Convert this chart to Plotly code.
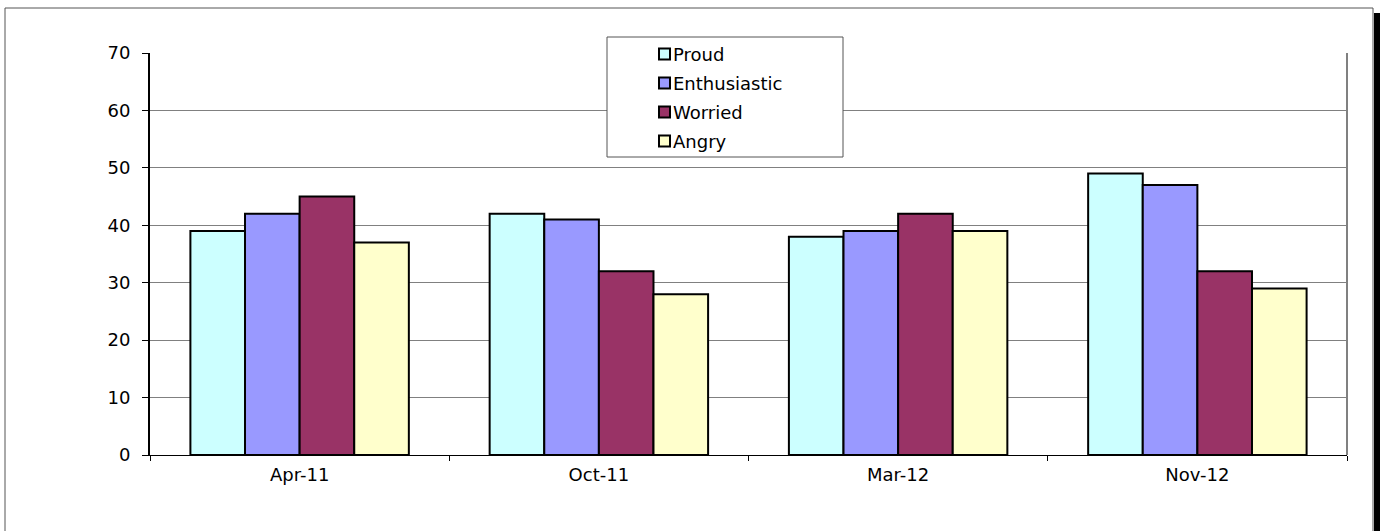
import plotly.graph_objects as go

categories = ["Apr-11", "Oct-11", "Mar-12", "Nov-12"]
proud = [39, 42, 38, 49]
enthusiastic = [42, 41, 39, 47]
worried = [45, 32, 42, 32]
angry = [37, 28, 39, 29]

series = [
    ("Proud", proud, "#CCFFFF"),
    ("Enthusiastic", enthusiastic, "#9999FF"),
    ("Worried", worried, "#993366"),
    ("Angry", angry, "#FFFFCC"),
]

W, H = 1383, 531
L, R, T, B = 150, 36, 53, 76
pw, ph = W - L - R, H - T - B

def px(x):
    return (x - L) / pw

def py(y):
    return (H - B - y) / ph

FAM = "DejaVu Sans, Arial, sans-serif"
font = dict(family=FAM, size=18, color="black")

fig = go.Figure()
for name, vals, col in series:
    fig.add_trace(go.Bar(
        x=categories, y=vals, name=name, showlegend=False,
        marker=dict(color=col, line=dict(color="black", width=2)),
    ))

shapes = [
    # outer frame
    dict(type="line", xref="paper", yref="paper", x0=px(5), x1=px(5), y0=py(8), y1=py(540),
         line=dict(color="#555555", width=1)),
    dict(type="line", xref="paper", yref="paper", x0=px(5), x1=px(1373), y0=py(8), y1=py(8),
         line=dict(color="#555555", width=1)),
    dict(type="line", xref="paper", yref="paper", x0=px(1373), x1=px(1373), y0=py(8), y1=py(540),
         line=dict(color="#555555", width=1)),
    # shadow
    dict(type="line", xref="paper", yref="paper", x0=px(1377), x1=px(1377), y0=py(13), y1=py(540),
         line=dict(color="black", width=6)),
    # plot area right border
    dict(type="line", xref="paper", yref="paper", x0=1, x1=1, y0=0, y1=1,
         line=dict(color="#808080", width=2)),
    # legend box
    dict(type="rect", xref="paper", yref="paper", x0=px(607), x1=px(843), y0=py(37), y1=py(157),
         line=dict(color="#555555", width=1), fillcolor="white", layer="above"),
]

annotations = []
row_y = [53, 82, 111, 140]
for (name, vals, col), ry in zip(series, row_y):
    shapes.append(dict(type="rect", xref="paper", yref="paper",
                       x0=px(659), x1=px(670), y0=py(ry - 4.5), y1=py(ry + 6.5),
                       line=dict(color="black", width=2), fillcolor=col, layer="above"))
    annotations.append(dict(text=name, xref="paper", yref="paper", x=px(671), y=py(ry + 1),
                            xanchor="left", yanchor="middle", showarrow=False,
                            font=font))

fig.update_layout(
    width=W, height=H,
    margin=dict(l=L, r=R, t=T, b=B, pad=0),
    paper_bgcolor="white", plot_bgcolor="white",
    font=font,
    barmode="group", bargap=0.27, bargroupgap=0,
    showlegend=False,
    shapes=shapes,
    annotations=annotations,
    xaxis=dict(
        showline=True, linecolor="black", linewidth=1,
        ticks="outside", tickson="boundaries", ticklen=5, tickcolor="black",
        showgrid=False, tickfont=font, ticklabelstandoff=3,
    ),
    yaxis=dict(
        range=[0, 70], dtick=10, tick0=0,
        showline=True, linecolor="black", linewidth=2,
        ticks="outside", ticklen=6, tickcolor="black",
        showgrid=True, gridcolor="#808080", gridwidth=1,
        zeroline=False, tickfont=font, ticklabelstandoff=8,
    ),
)

fig.write_html("out.html", config={"displayModeBar": False},
               post_script="document.body.style.margin='0';")
